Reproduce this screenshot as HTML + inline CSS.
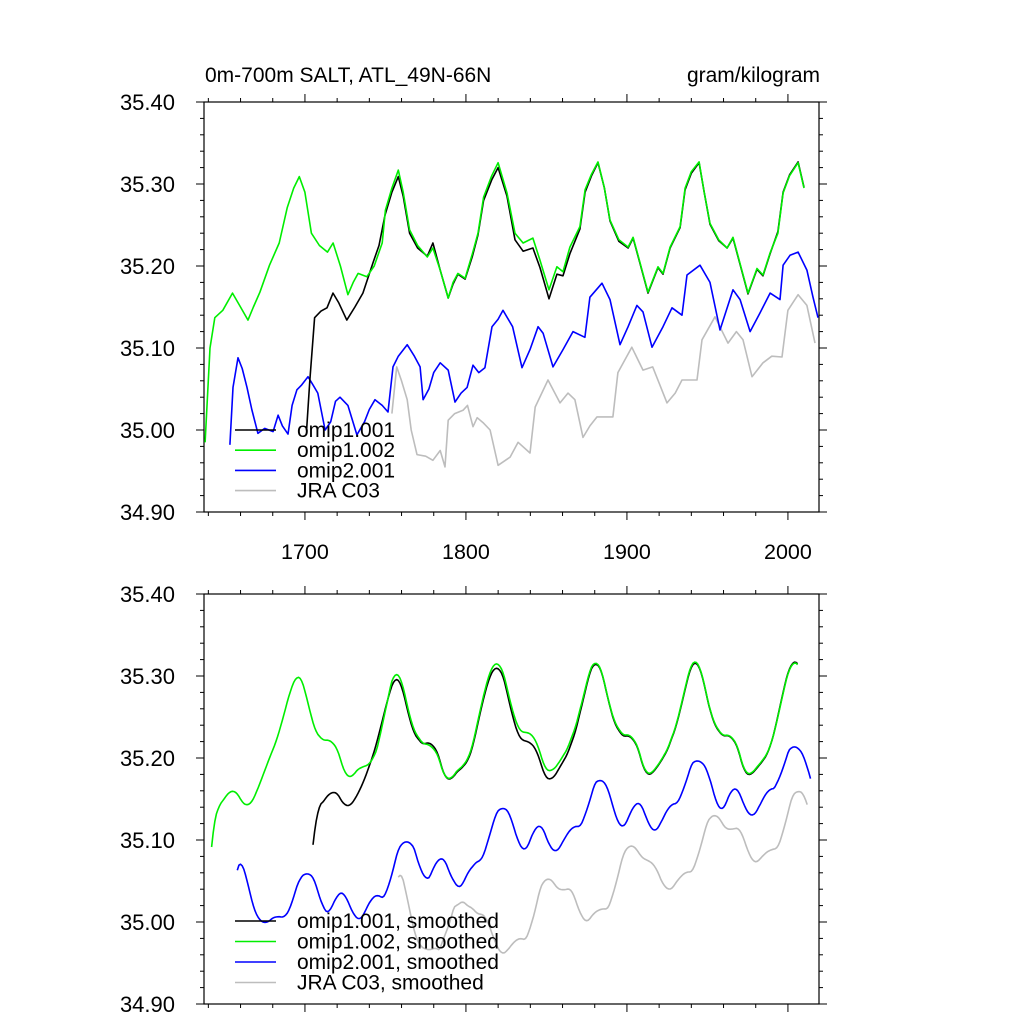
<!DOCTYPE html>
<html><head><meta charset="utf-8"><style>
html,body{margin:0;padding:0;background:#fff;}
svg{display:block;font-family:"Liberation Sans",sans-serif;}
</style></head><body>
<svg id="chart" width="1024" height="1024" viewBox="0 0 1024 1024">
<text x="205" y="82" font-size="21">0m-700m SALT, ATL_49N-66N</text>
<text x="820" y="82" font-size="21" text-anchor="end">gram/kilogram</text>
</svg>
<script>
const greenYears=[1638,1641,1644,1649,1655,1660,1664.6,1668,1672,1678,1684,1689,1693,1696.5,1700,1704,1709,1714,1717.5,1722,1726.7,1730,1733,1738.5,1743,1748,1750,1754,1758,1761,1765,1770,1776,1779.5,1784,1789,1792,1795,1799.5,1804,1807.5,1811,1816,1820,1825.5,1830.5,1835.5,1841.6,1846,1851.6,1856.5,1860.3,1864.6,1870.8,1874,1878,1882,1886,1889.5,1895,1900.7,1903.8,1908,1913.1,1919.3,1922.4,1926.8,1933,1936.1,1940,1944.8,1948,1951.6,1957,1962.2,1965.9,1970,1975.2,1980.8,1984.5,1988.9,1993.8,1997,2001,2006.3,2010];
const greenVals=[34.985,35.10,35.137,35.146,35.167,35.150,35.134,35.150,35.168,35.201,35.228,35.271,35.295,35.309,35.290,35.240,35.225,35.217,35.228,35.200,35.165,35.180,35.191,35.187,35.200,35.228,35.268,35.295,35.317,35.290,35.244,35.225,35.211,35.222,35.195,35.161,35.180,35.191,35.185,35.215,35.240,35.284,35.310,35.326,35.289,35.240,35.228,35.234,35.207,35.171,35.199,35.193,35.223,35.248,35.293,35.312,35.327,35.295,35.256,35.232,35.223,35.235,35.205,35.168,35.199,35.191,35.223,35.248,35.295,35.315,35.327,35.290,35.252,35.232,35.222,35.235,35.205,35.167,35.197,35.189,35.216,35.240,35.289,35.310,35.326,35.295];
const blackYears=[1701,1703,1706,1710,1713.7,1717.4,1721,1726,1731,1736,1742.3,1746,1749.7,1754,1758,1761,1765,1770,1776,1779.5,1784,1789,1792,1795,1799.5,1804,1807.5,1811,1816,1820,1825.5,1830.5,1835.5,1841.6,1846,1851.6,1856.5,1860.3,1864.6,1870.8,1874,1878,1882,1886,1889.5,1895,1900.7,1903.8,1908,1913.1,1919.3,1922.4,1926.8,1933,1936.1,1940,1944.8,1948,1951.6,1957,1962.2,1965.9,1970,1975.2,1980.8,1984.5,1988.9,1993.8,1997,2001,2006.3,2010];
const blackVals=[35.0,35.06,35.137,35.145,35.149,35.167,35.155,35.134,35.150,35.167,35.204,35.225,35.262,35.290,35.309,35.285,35.240,35.222,35.212,35.228,35.195,35.161,35.178,35.190,35.184,35.212,35.238,35.280,35.305,35.320,35.285,35.232,35.218,35.222,35.198,35.160,35.190,35.188,35.215,35.245,35.290,35.310,35.326,35.295,35.255,35.230,35.222,35.234,35.204,35.167,35.198,35.190,35.222,35.247,35.293,35.313,35.326,35.290,35.251,35.231,35.222,35.234,35.204,35.166,35.196,35.188,35.215,35.242,35.290,35.311,35.327,35.296];
const blueYears=[1653.4,1655.3,1658.4,1661,1664,1667,1670.8,1675,1680.2,1683.3,1686,1689.5,1692,1695,1698,1701.9,1705,1708,1712.5,1716,1719,1721.8,1726.7,1732.3,1737,1740,1743.5,1748,1751.6,1754.7,1758,1763.5,1768,1771.5,1773.4,1777,1780,1784,1789,1793.2,1797,1800.7,1804.4,1808,1811.8,1816.2,1820,1823,1829,1834.8,1839.8,1844.8,1847.9,1854.1,1860.3,1866.5,1873.9,1877,1884.5,1889.5,1895.7,1900.7,1906.2,1910,1915.6,1922.4,1928,1934.2,1937.3,1945.4,1951.6,1957.8,1965.9,1970.3,1976.5,1982.7,1988.9,1995.1,1997,2001.3,2006.3,2011.8,2015.6,2018.7];
const blueVals=[34.982,35.052,35.088,35.075,35.052,35.025,34.996,35.002,34.998,35.018,35.005,34.995,35.03,35.049,35.055,35.065,35.055,35.045,35.000,35.01,35.035,35.040,35.030,34.994,35.01,35.025,35.037,35.03,35.022,35.077,35.09,35.104,35.09,35.077,35.037,35.05,35.07,35.082,35.073,35.034,35.045,35.052,35.079,35.07,35.076,35.126,35.135,35.146,35.126,35.076,35.098,35.126,35.118,35.077,35.098,35.120,35.113,35.162,35.179,35.159,35.104,35.126,35.152,35.144,35.101,35.126,35.149,35.140,35.189,35.201,35.180,35.122,35.171,35.159,35.120,35.143,35.167,35.159,35.201,35.213,35.217,35.195,35.162,35.137];
const grayYears=[1754,1757,1760,1763.5,1766,1769.6,1775,1779.5,1784,1787,1789,1793,1798.2,1801,1804.4,1807,1810.6,1815,1820,1827.4,1832.4,1839.8,1843,1851,1858.4,1863.4,1867.7,1872.7,1877,1881.4,1891.3,1894.4,1903,1910,1916,1924.9,1930,1934.2,1943.5,1946.6,1954.7,1962.8,1968,1972.1,1977.7,1984.5,1990,1996.3,2000,2006.3,2011.8,2016.8];
const grayVals=[35.02,35.077,35.06,35.037,35.0,34.970,34.968,34.963,34.975,34.955,35.012,35.02,35.024,35.03,35.004,35.015,35.009,35.0,34.957,34.967,34.985,34.972,35.028,35.061,35.033,35.045,35.037,34.991,35.005,35.016,35.016,35.070,35.101,35.073,35.077,35.033,35.045,35.061,35.061,35.110,35.138,35.106,35.12,35.110,35.065,35.082,35.09,35.089,35.146,35.165,35.152,35.106];
const yTicks=[34.90,35.00,35.10,35.20,35.30,35.40];
const yTickLabels=["34.90","35.00","35.10","35.20","35.30","35.40"];
const xTicks=[1700,1800,1900,2000];
const xTickLabels=["1700","1800","1900","2000"];
const legendTop=["omip1.001","omip1.002","omip2.001","JRA C03"];
const legendBottom=["omip1.001, smoothed","omip1.002, smoothed","omip2.001, smoothed","JRA C03, smoothed"];

const NS="http://www.w3.org/2000/svg";
const svg=document.getElementById('chart');
const X0=204,X1=819,YR0=1637.3,YR1=2019.3;
const xs=y=>X0+(y-YR0)/(YR1-YR0)*(X1-X0);
function mk(tag,attrs,parent){const e=document.createElementNS(NS,tag);for(const k in attrs)e.setAttribute(k,attrs[k]);(parent||svg).appendChild(e);return e;}

function interpYearly(yrs,vals){const n=Math.min(yrs.length,vals.length);const out=[];
 for(let y=Math.ceil(yrs[0]);y<=Math.floor(yrs[n-1]);y++){let i=0;while(i<n-2&&yrs[i+1]<y)i++;
  const t=(y-yrs[i])/(yrs[i+1]-yrs[i]);out.push([y,vals[i]+t*(vals[i+1]-vals[i])]);}return out;}
function smooth(yrs,vals){const a=interpYearly(yrs,vals);const h=4;const out=[];
 for(let i=h;i<a.length-h;i++){let s=0;for(let j=-h;j<=h;j++)s+=a[i+j][1];out.push([a[i][0],s/(2*h+1)]);}return out;}

const colors=["#000000","#00ee00","#0000ff","#bdbdbd"];
const seriesNames=["omip1-001","omip1-002","omip2-001","jra-c03"];
const seriesData=[[blackYears,blackVals],[greenYears,greenVals],[blueYears,blueVals],[grayYears,grayVals]];

function panel(top,idx,legend,smoothed,showX){
 const bottom=top+410;
 const ys=v=>bottom-(v-34.90)/0.5*410;
 const g=mk('g',{});
 
 
 const fr=mk('rect',{x:X0,y:top,width:X1-X0,height:410,fill:'none',stroke:'#000','stroke-width':1.2},g);
 
 
 for(let yr=1640;yr<=2020;yr+=20){const x=xs(yr);if(x>X1+0.5)continue;const major=yr%100===0;const L=major?8:4;
  const t1=mk('line',{x1:x,x2:x,y1:top,y2:top-L,stroke:'#000','stroke-width':1},g);
  
  
  const t2=mk('line',{x1:x,x2:x,y1:bottom,y2:bottom+L,stroke:'#000','stroke-width':1},g);
  
  }
 if(showX){xTicks.forEach((t,i)=>{const e=mk('text',{x:xs(t),y:bottom+47,'font-size':21.5,'text-anchor':'middle'},g);e.textContent=xTickLabels[i];
  
  });}
 for(let k=0;k<=25;k++){const v=34.90+k*0.02;const y=ys(v);const major=k%5===0;const L=major?8:4;
  const a=mk('line',{x1:X0,x2:X0-L,y1:y,y2:y,stroke:'#000','stroke-width':1},g);
  
  
  const b=mk('line',{x1:X1,x2:X1+L,y1:y,y2:y,stroke:'#000','stroke-width':1},g);
  
  }
 yTicks.forEach((t,i)=>{const e=mk('text',{x:175,y:ys(t)+8,'font-size':22,'text-anchor':'end'},g);e.textContent=yTickLabels[i];
  
  });
 [3,2,0,1].forEach(si=>{const [yr,vl]=seriesData[si];let pts;
  if(smoothed)pts=smooth(yr,vl);else{pts=[];const n=Math.min(yr.length,vl.length);for(let i=0;i<n;i++)pts.push([yr[i],vl[i]]);}
  const d=pts.map((p,i)=>(i?'L':'M')+xs(p[0]).toFixed(1)+','+ys(p[1]).toFixed(1)).join('');
  const p=mk('path',{d:d,fill:'none',stroke:colors[si],'stroke-width':1.6,'stroke-linejoin':'round'},g);
  
  });
 const ly0=smoothed?921:430,ldy=smoothed?20.5:20.2;
 legend.forEach((lab,i)=>{const y=ly0+i*ldy;
  const l=mk('line',{x1:235,x2:276,y1:y,y2:y,stroke:colors[i],'stroke-width':1.6},g);
  
  
  const t=mk('text',{x:297,y:y+7,'font-size':21},g);t.textContent=lab;
  
  });
}
panel(102,0,legendTop,false,true);
panel(594,1,legendBottom,true,false);
</script>
</body></html>
